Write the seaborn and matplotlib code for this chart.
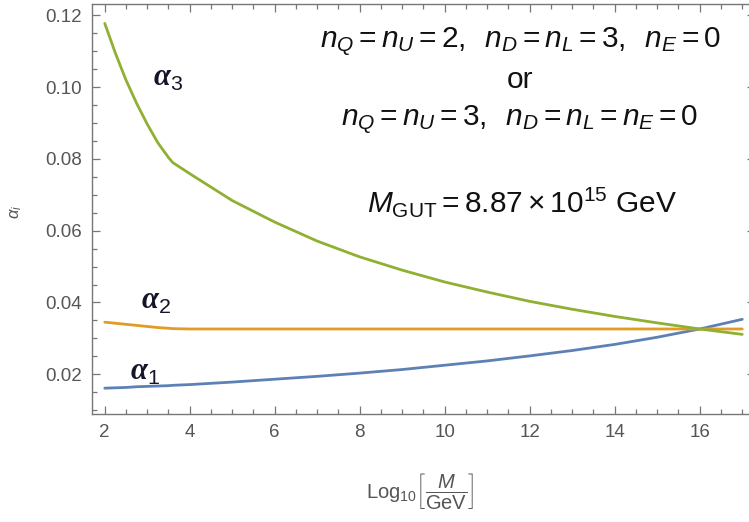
import numpy as np
import pandas as pd
import matplotlib
matplotlib.use("Agg")
import matplotlib.pyplot as plt
from matplotlib.ticker import MultipleLocator
import seaborn as sns

# ---- data ----
log_mu = [2, 2.25, 2.5, 2.75, 3, 3.25, 3.5, 3.6, 4, 5, 6, 7, 8, 9, 10, 11, 12, 13,
          14, 15, 16, 17]
alpha1 = [0.0161, 0.0162, 0.0163, 0.0165, 0.0166, 0.0167, 0.0168, 0.0169, 0.0171,
          0.0178, 0.0186, 0.0194, 0.0203, 0.0213, 0.0225, 0.0237, 0.0251, 0.0266,
          0.0283, 0.0303, 0.0326, 0.0353]
alpha2 = [0.0345, 0.0342, 0.0339, 0.0336, 0.0333, 0.0330, 0.0328, 0.0327, 0.0326,
          0.0326, 0.0326, 0.0326, 0.0326, 0.0326, 0.0326, 0.0326, 0.0326, 0.0326,
          0.0326, 0.0326, 0.0326, 0.0326]
alpha3 = [0.1178, 0.1095, 0.1020, 0.0955, 0.0897, 0.0845, 0.0804, 0.0790, 0.0759,
          0.0684, 0.0624, 0.0571, 0.0527, 0.0490, 0.0457, 0.0429, 0.0403, 0.0381,
          0.0361, 0.0343, 0.0326, 0.0311]
series_names = ["alpha1", "alpha2", "alpha3"]
series_colors = ["#5E81B5", "#E19C24", "#8FB032"]

df = pd.DataFrame({
    "x": log_mu * 3,
    "y": alpha1 + alpha2 + alpha3,
    "series": sum([[n] * len(log_mu) for n in series_names], []),
})

sns.set_theme(style="white")
plt.rcParams["font.family"] = ["Liberation Sans", "DejaVu Sans"]
plt.rcParams["mathtext.fontset"] = "custom"
plt.rcParams["mathtext.rm"] = "Liberation Sans"
plt.rcParams["mathtext.it"] = "Liberation Sans:italic"
plt.rcParams["mathtext.bf"] = "Liberation Sans:bold"
plt.rcParams["mathtext.bfit"] = "Liberation Serif:italic:bold"

fig = plt.figure(figsize=(7.49, 5.22), dpi=100)
ax = fig.add_axes([92 / 749, 1 - 414 / 522, (755 - 92) / 749, (414 - 4) / 522])

sns.lineplot(data=df, x="x", y="y", hue="series", palette=series_colors,
             estimator=None, sort=False, linewidth=2.0, legend=False, ax=ax)

ax.set_xlim(1.7, 17.3)
ax.set_ylim(0.0089, 0.1232)
ax.xaxis.set_major_locator(MultipleLocator(2))
ax.xaxis.set_minor_locator(MultipleLocator(0.5))
ax.yaxis.set_major_locator(MultipleLocator(0.02))
ax.yaxis.set_minor_locator(MultipleLocator(0.005))
ax.xaxis.set_major_formatter(matplotlib.ticker.FuncFormatter(lambda v, p: f"{v:.0f}"))
ax.yaxis.set_major_formatter(matplotlib.ticker.FuncFormatter(lambda v, p: f"{v:.2f}"))

frame_col = "#777777"
for s in ax.spines.values():
    s.set_visible(True)
    s.set_color(frame_col)
    s.set_linewidth(1.0)
ax.tick_params(which="both", direction="in", top=True, right=True, bottom=True,
               left=True, color=frame_col, width=0.9)
ax.tick_params(which="major", length=6, labelsize=13.5, labelcolor="#555555", pad=7)
ax.tick_params(which="minor", length=3.6)
ax.set_xlabel("")
ax.set_ylabel("")

# curve labels
lab_col = "#15152a"
ax.text(3.5, 0.1025, r"$\mathbfit{\alpha}_{\mathrm{3}}$", fontsize=22, color=lab_col,
        ha="center", va="center")
ax.text(3.2, 0.0405, r"$\mathbfit{\alpha}_{\mathrm{2}}$", fontsize=22, color=lab_col,
        ha="center", va="center")
ax.text(2.95, 0.0207, r"$\mathbfit{\alpha}_{\mathrm{1}}$", fontsize=22, color=lab_col,
        ha="center", va="center")

# annotation block
txt_col = "#111111"
fs = 21.5
ax.text(520 / 749, 1 - 42 / 522, r"$n_Q = n_U = 2,\;\; n_D = n_L = 3,\;\; n_E = 0$",
        transform=fig.transFigure, fontsize=fs, ha="center", va="center", color=txt_col)
ax.text(520 / 749, 1 - 80 / 522, "or", transform=fig.transFigure, fontsize=fs,
        ha="center", va="center", color=txt_col)
ax.text(520 / 749, 1 - 120 / 522, r"$n_Q = n_U = 3,\;\; n_D = n_L = n_E = 0$",
        transform=fig.transFigure, fontsize=fs, ha="center", va="center", color=txt_col)
ax.text(522 / 749, 1 - 202 / 522, r"$M_{\mathrm{GUT}} = 8.87\times 10^{15}$ GeV",
        transform=fig.transFigure, fontsize=fs, ha="center", va="center", color=txt_col)

# axis labels
fig.text(16 / 749, 1 - 212 / 522, r"$\alpha_i$", rotation=90, fontsize=12,
         color="#555555", ha="center", va="center")
fig.text(420 / 749, 1 - 491 / 522, r"$\mathrm{Log}_{10}\left[\dfrac{M}{\mathrm{GeV}}\right]$",
         fontsize=14.5, color="#555555", ha="center", va="center")

fig.savefig("out.png", dpi=100)
